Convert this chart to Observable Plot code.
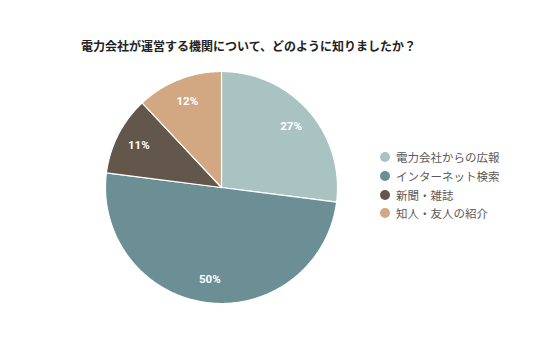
<!DOCTYPE html>
<html>
<head>
<meta charset="utf-8">
<script src="https://cdn.jsdelivr.net/npm/d3@7"></script>
<script src="https://cdn.jsdelivr.net/npm/@observablehq/plot@0.6"></script>
<style>
  html, body { margin: 0; padding: 0; background: #fff; }
  #wrap { position: relative; width: 536px; height: 357px; overflow: hidden; font-family: "Noto Sans CJK JP", "Noto Sans", sans-serif; }
  #title { position: absolute; left: 81px; top: 37px; font-size: 12px; font-weight: bold; color: #222; white-space: nowrap; }
  #legend { position: absolute; left: 380px; top: 148px; }
  .row { display: flex; align-items: center; height: 18.7px; font-size: 11.5px; color: #595959; white-space: nowrap; }
  .sw { width: 10px; height: 10px; border-radius: 50%; margin-right: 6px; }
  #chart { position: absolute; left: 0; top: 0; }
</style>
</head>
<body>
<div id="wrap">
  <div id="chart"></div>
  <div id="title"></div>
  <div id="legend"></div>
</div>
<script>
const title = "電力会社が運営する機関について、どのように知りましたか？";
const categories = ["電力会社からの広報", "インターネット検索", "新聞・雑誌", "知人・友人の紹介"];
const values = [27, 50, 11, 12];
const labels = ["27%", "50%", "11%", "12%"];
const colors = ["#a9c2c2", "#6b8f94", "#63564b", "#d2a882"];

const arcs = d3.pie().sort(null)(values);
const pts = [];
arcs.forEach((a, i) => {
  const name = categories[i];
  pts.push({name, x: 0, y: 0});
  const n = Math.max(2, Math.ceil((a.endAngle - a.startAngle) / 0.01));
  for (let k = 0; k <= n; k++) {
    const t = a.startAngle + (a.endAngle - a.startAngle) * k / n;
    pts.push({name, x: Math.sin(t), y: Math.cos(t)});
  }
  pts.push({name, x: 0, y: 0});
});
const labelR = 0.8;
const lab = arcs.map((a, i) => {
  const m = (a.startAngle + a.endAngle) / 2;
  return {name: categories[i], text: labels[i], x: labelR * Math.sin(m), y: labelR * Math.cos(m)};
});

const chart = Plot.plot({
  width: 536,
  height: 357,
  margin: 0,
  x: {domain: [-1, 1], range: [105, 337], axis: null},
  y: {domain: [-1, 1], range: [303, 71], axis: null},
  color: {domain: categories, range: colors},
  style: {background: "transparent"},
  marks: [
    Plot.line(pts, {x: "x", y: "y", z: "name", fill: "name", stroke: "white", strokeWidth: 1.2, curve: "linear"}),
    Plot.text(lab, {x: "x", y: "y", text: "text", fill: "white", fontSize: 11.5, fontWeight: "bold", fontFamily: "Roboto, 'Noto Sans', sans-serif"})
  ]
});
document.getElementById("chart").appendChild(chart);
document.getElementById("title").textContent = title;
const leg = document.getElementById("legend");
categories.forEach((c, i) => {
  const r = document.createElement("div");
  r.className = "row";
  const s = document.createElement("span");
  s.className = "sw";
  s.style.background = colors[i];
  const t = document.createElement("span");
  t.textContent = c;
  r.appendChild(s); r.appendChild(t);
  leg.appendChild(r);
});
</script>
</body>
</html>
